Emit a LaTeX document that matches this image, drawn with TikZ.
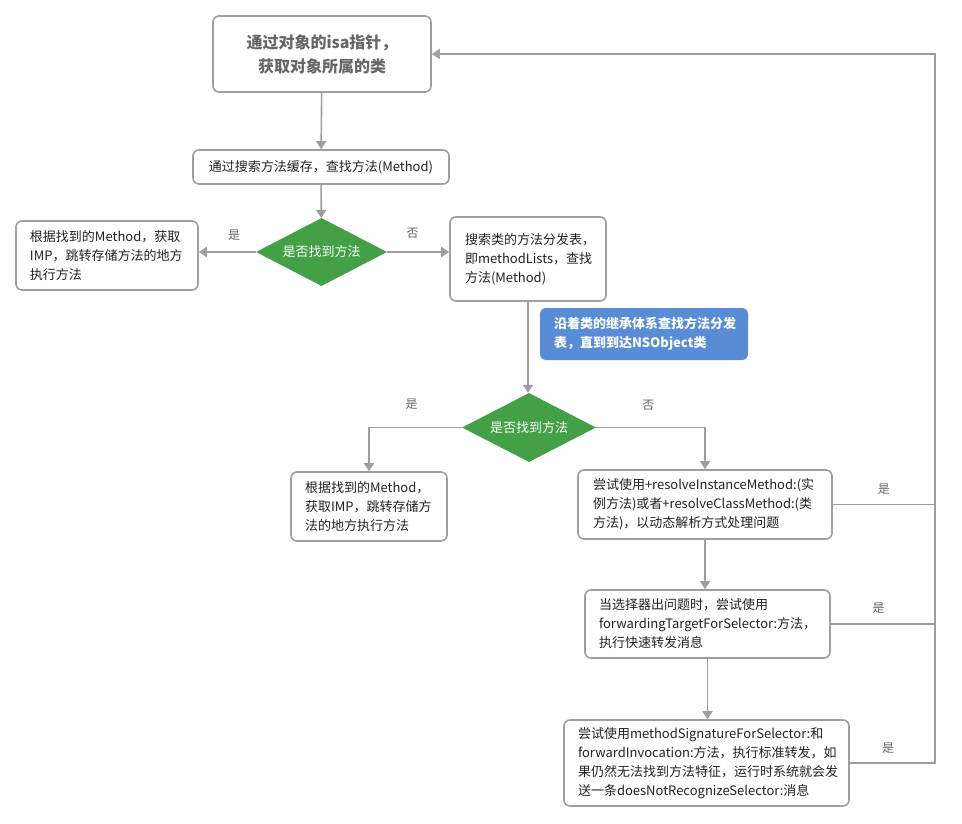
\documentclass[tikz,border=0pt]{standalone}
\usepackage{fontspec}
\setmainfont{Noto Sans CJK SC}
\usetikzlibrary{shapes.geometric,arrows.meta}
\definecolor{linegray}{RGB}{158,158,158}
\definecolor{textgray}{RGB}{102,102,102}
\definecolor{textdark}{RGB}{34,34,34}
\definecolor{askgreen}{RGB}{67,160,71}
\definecolor{noteblue}{RGB}{88,141,214}
\begin{document}
\begin{tikzpicture}[x=1pt,y=-1pt,
	box/.style={draw=linegray, line width=1.6, rounded corners=6, fill=white,
		text=textdark, font=\fontsize{13}{19}\selectfont, align=left, inner ysep=0},
	ask/.style={diamond, aspect=2, fill=askgreen, text=white, inner sep=0,
		font=\fontsize{13}{16}\selectfont},
	line/.style={draw=linegray, line width=1.6},
	arrow/.style={line, -{Triangle[width=10pt,length=8pt]}},
	lbl/.style={text=textgray, font=\fontsize{12}{14}\selectfont, inner sep=0}]
%	\draw [help lines] (0,0) grid[step=50] (962,824);  % help lines
	\useasboundingbox (0,0) rectangle (962,824);
	
	% boxes
	\node[box, minimum width=218, minimum height=76, align=center, text=textgray,
		font=\fontsize{16}{24}\selectfont\bfseries] (top) at (322,54)
		{通过对象的isa指针，\\ 获取对象所属的类};
	\node[box, minimum width=256, minimum height=34, align=center] (cache) at (321,167)
		{通过搜索方法缓存，查找方法(Method)};
	\node[box, text width=154, inner xsep=14, minimum height=69] (found1) at (107,255.5)
		{根据找到的Method，获取\\IMP，跳转存储方法的地方\\执行方法};
	\node[box, text width=126, inner xsep=15, minimum height=84] (classtab) at (528,259)
		{搜索类的方法分发表，\\即methodLists，查找\\方法(Method)};
	\node[box, text width=128, inner xsep=14, minimum height=69] (found2) at (369,506.5)
		{根据找到的Method，\\获取IMP，跳转存储方\\法的地方执行方法};
	\node[box, text width=224, inner xsep=15, minimum height=69] (resolve) at (705,504.5)
		{尝试使用+resolveInstanceMethod:(实\\例方法)或者+resolveClassMethod:(类\\方法)，以动态解析方式处理问题};
	\node[box, text width=217, inner xsep=14, minimum height=68] (fwd) at (707.5,624)
		{当选择器出问题时，尝试使用\\forwardingTargetForSelector:方法，\\执行快速转发消息};
	\node[box, text width=257, inner xsep=14, minimum height=86] (sig) at (706.5,763)
		{尝试使用methodSignatureForSelector:和\\forwardInvocation:方法，执行标准转发，如\\果仍然无法找到方法特征，运行时系统就会发\\送一条doesNotRecognizeSelector:消息};
	
	% note
	\node[fill=noteblue, rounded corners=6, text=white, align=left, text width=180,
		inner xsep=14, inner ysep=0, minimum height=52,
		font=\fontsize{13}{19}\selectfont\bfseries] (note) at (644,334)
		{沿着类的继承体系查找方法分发\\表，直到到达NSObject类};
	
	% decisions
	\node[ask, minimum width=131, minimum height=68] (d1) at (321.5,252) {是否找到方法};
	\node[ask, minimum width=134, minimum height=69] (d2) at (529,427.5) {是否找到方法};
	
	% return line
	\coordinate (rt) at (935,54);
	
	% connectors
	\draw[arrow] (top) -- (cache);
	\draw[arrow] (cache) -- (d1);
	\draw[arrow] (d1.west) -- node[lbl, pos=.38, yshift=17] {是} (d1.west -| found1.east);
	\draw[arrow] (d1.east) -- node[lbl, pos=.41, yshift=19] {否} (d1.east -| classtab.west);
	\draw[arrow] (classtab.south) -- (classtab.south |- d2.north);
	\draw[arrow] (d2.west) -| node[lbl, pos=.27, yshift=23] {是} (found2.north);
	\draw[arrow] (d2.east) -| node[lbl, pos=.24, yshift=22] {否} (resolve.north);
	\draw[arrow] (resolve.south) -- (resolve.south |- fwd.north);
	\draw[arrow] (fwd.south) -- (fwd.south |- sig.north);
	\draw[line] (resolve.east) -- node[lbl, pos=.5, yshift=15] {是} (resolve.east -| rt);
	\draw[line] (fwd.east) -- node[lbl, pos=.46, yshift=16] {是} (fwd.east -| rt);
	\draw[arrow] (sig.east) -- node[lbl, pos=.45, yshift=15] {是} (sig.east -| rt)
		-- (rt) -- (top.east);
\end{tikzpicture}
\end{document}
